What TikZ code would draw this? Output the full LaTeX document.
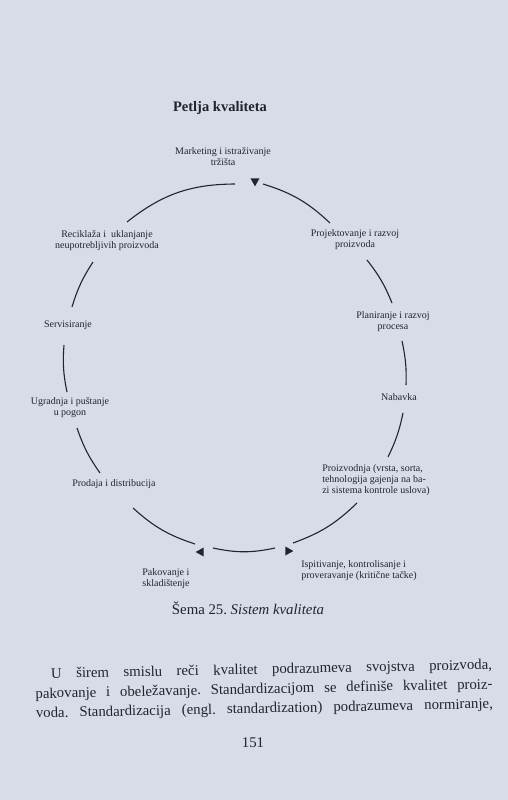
\documentclass[tikz,border=0pt]{standalone}
\usepackage{fontspec}
\setmainfont{Liberation Serif}
\usetikzlibrary{shapes.geometric,positioning}
\definecolor{PaperGray}{RGB}{216,220,232}
\definecolor{InkGray}{RGB}{34,36,44}

\tikzset{
  stage/.style={font=\fontsize{10}{11}\selectfont,text=InkGray,inner sep=0pt,align=center},
  stageleft/.style={stage,align=left},
  loopline/.style={draw=InkGray,line width=1.1pt},
  turn/.style={isosceles triangle,isosceles triangle apex angle=60,isosceles triangle stretches,
    minimum height=8pt,minimum width=9pt,inner sep=0pt,fill=InkGray},
  bodytext/.style={font=\fontsize{14.8}{19}\selectfont,text=InkGray,inner sep=0pt}
}

\begin{document}
\frenchspacing
\begin{tikzpicture}[x=1pt,y=-1pt]
      \fill[PaperGray] (0,0) rectangle (508,800);
      \useasboundingbox (0,0) rectangle (508,800);
      % title
      \node[bodytext,font=\fontsize{14.5}{17}\selectfont\bfseries] (title) at (220,108) {Petlja kvaliteta};
      % stages of the loop
      \node[stage] (mkt) at (223,157) {Marketing i istraživanje\\tržišta};
      \node[stage] (proj) at (355,240) {Projektovanje i razvoj\\proizvoda};
      \node[stage] (plan) at (393,322) {Planiranje i razvoj\\procesa};
      \node[stage] (nab) at (399,397) {Nabavka};
      \node[stageleft] (pro) at (376,480) {Proizvodnja (vrsta, sorta,\\tehnologija gajenja na ba-\\zi sistema kontrole uslova)};
      \node[stageleft] (isp) at (359,571) {Ispitivanje, kontrolisanje i\\proveravanje (kritične tačke)};
      \node[stageleft] (pak) at (166,579) {Pakovanje i\\skladištenje};
      \node[stage] (prod) at (114,484) {Prodaja i distribucija};
      \node[stage] (ugr) at (70,408) {Ugradnja i puštanje\\u pogon};
      \node[stage] (serv) at (68,325) {Servisiranje};
      \node[stage] (rec) at (107,241) {Reciklaža i \ uklanjanje\\neupotrebljivih proizvoda};
      % turning marks
      \node[turn,shape border rotate=-90] (tipT) at (255,181) {};
      \node[turn,shape border rotate=180] (tipL) at (201,552) {};
      \node[turn] (tipR) at (288,551) {};
      % arc ends
      \coordinate (tipT-r) at (263,184);
      \coordinate (proj-in) at (330,223);
      \coordinate (proj-out) at (367,260);
      \coordinate (plan-in) at (392,303);
      \coordinate (plan-out) at (402,341);
      \coordinate (nab-in) at (406,385);
      \coordinate (nab-out) at (403,413);
      \coordinate (pro-in) at (388,457);
      \coordinate (pro-out) at (357,503);
      \coordinate (tipR-up) at (293,543);
      \coordinate (tipR-l) at (275,548);
      \coordinate (tipL-r) at (213,548);
      \coordinate (tipL-up) at (195,544);
      \coordinate (prod-in) at (133,508);
      \coordinate (prod-out) at (100,473);
      \coordinate (ugr-in) at (77,428);
      \coordinate (ugr-out) at (67,392);
      \coordinate (serv-in) at (64,345);
      \coordinate (serv-out) at (72,307);
      \coordinate (rec-in) at (93,262);
      \coordinate (rec-out) at (127,222);
      \coordinate (tipT-l) at (235,184);
      % the loop
      \draw[loopline] (tipT-r) to[bend left=13] (proj-in);
      \draw[loopline] (proj-out) to[bend left=8] (plan-in);
      \draw[loopline] (plan-out) to[bend left=7] (nab-in);
      \draw[loopline] (nab-out) to[bend left=7] (pro-in);
      \draw[loopline] (pro-out) to[bend left=12] (tipR-up);
      \draw[loopline] (tipR-l) to[bend left=12] (tipL-r);
      \draw[loopline] (tipL-up) to[bend left=12] (prod-in);
      \draw[loopline] (prod-out) to[bend left=8] (ugr-in);
      \draw[loopline] (ugr-out) to[bend left=8] (serv-in);
      \draw[loopline] (serv-out) to[bend left=8] (rec-in);
      \draw[loopline] (rec-out) to[bend left=19] (tipT-l);
      % caption and page text
      \node[bodytext] (cap) at (248,608) {Šema 25. \textit{Sistem kvaliteta}};
      \node[bodytext,rotate=1.2] (para) at (264,690) {\parbox{457pt}{\fontsize{14.8}{19.5}\selectfont
        \makebox[457pt][s]{\hspace{16pt}U širem smislu reči kvalitet podrazumeva svojstva proizvoda,}\\
        \makebox[457pt][s]{pakovanje i obeležavanje. Standardizacijom se definiše kvalitet proiz-}\\
        \makebox[457pt][s]{voda. Standardizacija (engl. standardization) podrazumeva normiranje,}}};
      \node[bodytext] (page) at (253,743) {151};
    \end{tikzpicture}
\end{document}
